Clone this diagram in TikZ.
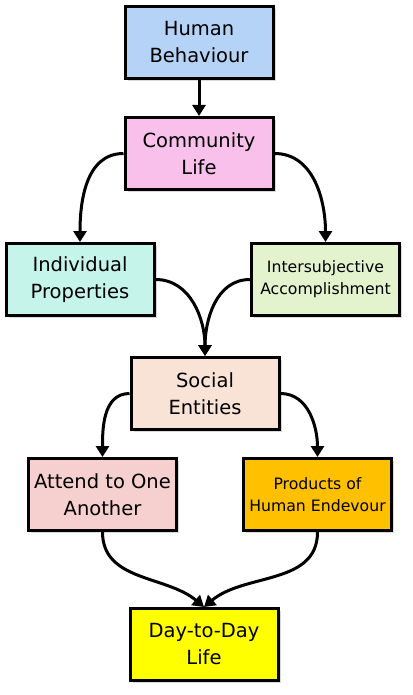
\documentclass[tikz,border=0pt]{standalone}
\usepackage{fontspec}
\setmainfont{DejaVu Sans}
\usepackage{tikz}
\usetikzlibrary{arrows.meta, positioning, shadows}
\usepackage{xcolor}

\definecolor{behaviourblue}{RGB}{180,211,247}
\definecolor{communitypink}{RGB}{248,192,234}
\definecolor{individualmint}{RGB}{196,244,234}
\definecolor{intersubgreen}{RGB}{226,243,206}
\definecolor{socialpeach}{RGB}{249,227,215}
\definecolor{attendrose}{RGB}{246,207,207}
\definecolor{productsamber}{RGB}{255,192,0}
\definecolor{dailyyellow}{RGB}{255,255,0}

\begin{document}
\begin{tikzpicture}[
        x=1pt, y=1pt,
        entity/.style={rectangle, draw=black, line width=3pt, minimum width=148pt, minimum height=72pt, align=center, font=\fontsize{19.5}{27}\selectfont, drop shadow={shadow xshift=2.5pt, shadow yshift=-2.5pt, opacity=0.3}},
        smalltext/.style={font=\fontsize{15.7}{22}\selectfont},
        link/.style={-{Triangle[length=11pt, width=13pt]}, line width=3pt}
    ]
    \useasboundingbox (0,0) rectangle (412,-695);

    % Nodes
    \node[entity, fill=behaviourblue] (behaviour) at (199,-42.5) {Human\\Behaviour};
    \node[entity, fill=communitypink, below=36pt of behaviour] (community) {Community\\Life};

    \node[entity, fill=individualmint, below=51pt of community, xshift=-119pt] (individual) {Individual\\Properties};
    \node[entity, smalltext, fill=intersubgreen, below=51pt of community, xshift=126.5pt] (intersub) {Intersubjective\\Accomplishment};

    \node[entity, fill=socialpeach, below=39pt of individual, xshift=125pt] (social) {Social\\Entities};

    \node[entity, fill=attendrose, below=26pt of social, xshift=-102.5pt] (attend) {Attend to One\\Another};
    \node[entity, smalltext, fill=productsamber, below=26pt of social, xshift=112.5pt] (products) {Products of\\Human Endevour};

    \node[entity, fill=dailyyellow, below=75pt of attend, xshift=101.5pt] (daily) {Day-to-Day\\Life};

    % Edges
    \draw[link] (behaviour) -- (community);
    \draw[link] (community.west) to[out=180, in=90] (individual.north);
    \draw[link] (community.east) to[out=0, in=90] (intersub.north);
    \draw[link] (individual.east) to[out=0, in=90] (social.north);
    \draw[link] (intersub.west) to[out=180, in=90] (social.north);
    \draw[link] (social.west) to[out=180, in=90] (attend.north);
    \draw[link] (social.east) to[out=0, in=90] (products.north);
    \draw[link] (attend.south) to[out=-90, in=140] (daily.north);
    \draw[link] (products.south) to[out=-90, in=40] (daily.north);

\end{tikzpicture}
\end{document}
